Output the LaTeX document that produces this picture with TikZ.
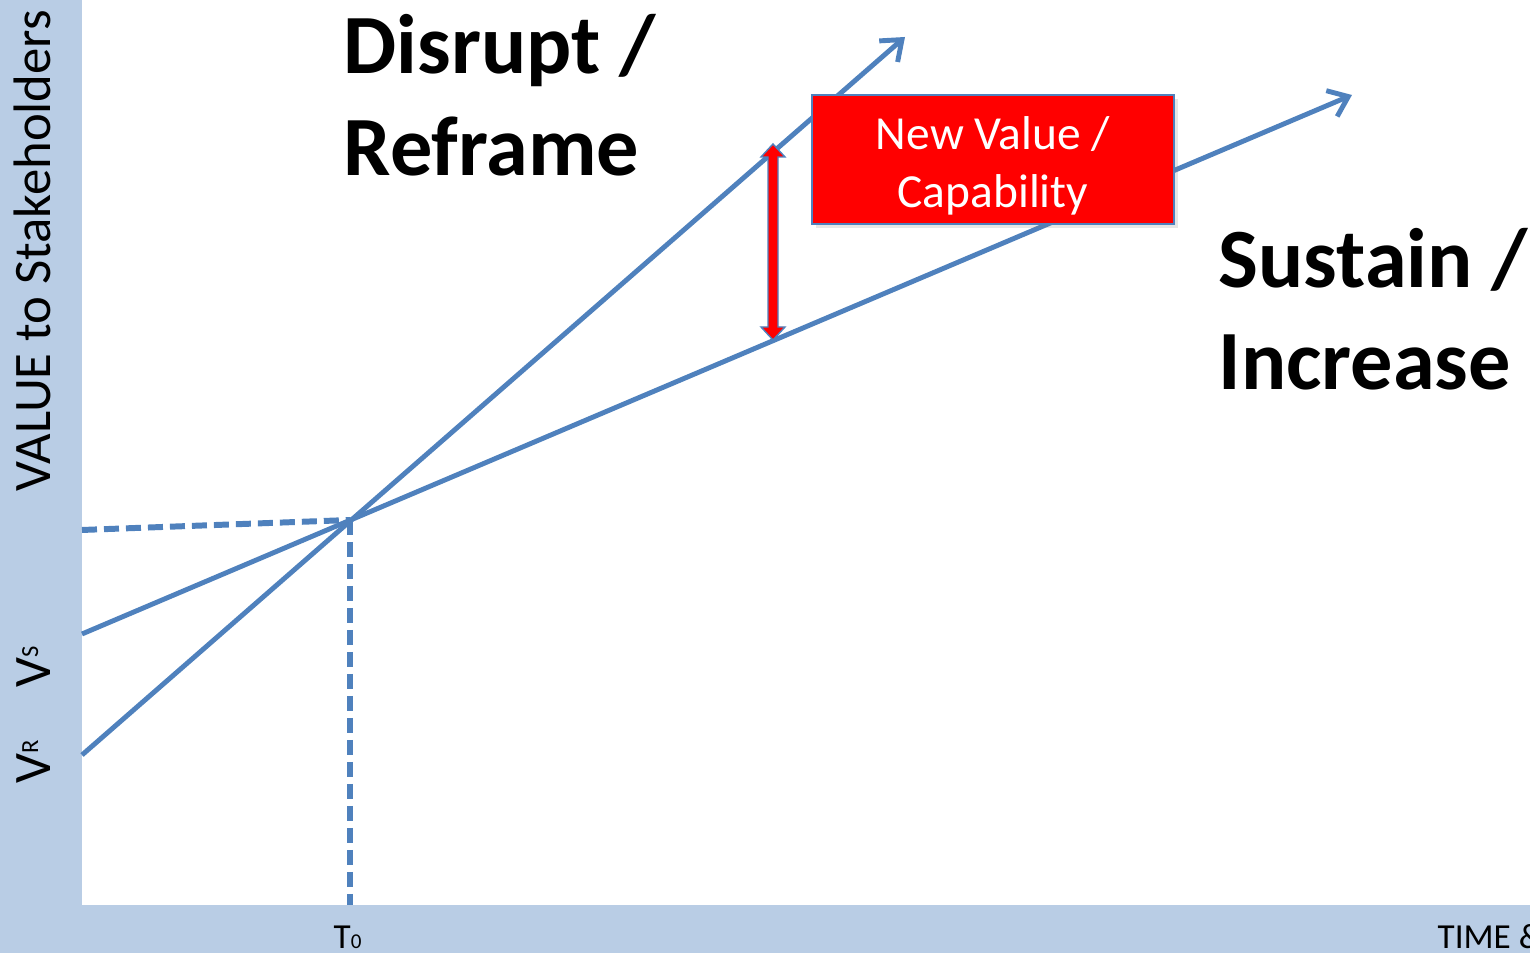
\documentclass[tikz,border=0pt]{standalone}
\usepackage{fontspec}
\setmainfont{Carlito}
\usetikzlibrary{arrows.meta,calc,shadows}
\definecolor{panelblue}{RGB}{185,205,229}
\definecolor{lineblue}{RGB}{79,129,189}
\definecolor{gapred}{RGB}{255,0,0}

\begin{document}
\begin{tikzpicture}[x=0.1mm,y=-0.1mm,trend/.style={draw=lineblue,line width=1.4pt,-{Straight Barb[length=1.8mm,width=2.8mm]}},guide/.style={draw=lineblue,line width=1.7pt,dash pattern=on 1.5mm off 0.7mm},big/.style={font=\fontsize{24}{29}\selectfont\bfseries,align=left,inner sep=0pt,anchor=north west},axislabel/.style={font=\fontsize{15}{18}\selectfont,inner sep=0pt,rotate=90,anchor=base},tick/.style={font=\fontsize{10}{12}\selectfont,inner sep=0pt,anchor=base west}]
% axis panels
\fill[panelblue] (0,0) rectangle (82,953);
\fill[panelblue] (0,905) rectangle (1530,953);
\useasboundingbox (0,0) rectangle (1530,953);
% where the two curves meet, and their ends
\coordinate (T0) at (350,520);
\coordinate (vr) at (82,755);
\coordinate (vs) at (82,634);
\coordinate (reframeEnd) at (905,37);
\coordinate (sustainEnd) at (1352,95);
\coordinate (hl) at (82,530);
\coordinate (vb) at (350,905);
\coordinate (gapTop) at (773,144);
\coordinate (gapBot) at (773,340);
% guides to the axes
\draw[guide] (hl) -- (T0);
\draw[guide] (T0) -- (vb);
% the two curves
\draw[trend] (vr) -- (reframeEnd);
\draw[trend] (vs) -- (sustainEnd);
% gap arrow between them
\filldraw[fill=gapred,draw=lineblue,line width=0.4pt] (gapTop) -- ($(gapTop)+(12,13)$) -- ($(gapTop)+(5,13)$) -- ($(gapBot)+(5,-13)$) -- ($(gapBot)+(12,-13)$) -- (gapBot) -- ($(gapBot)+(-12,-13)$) -- ($(gapBot)+(-5,-13)$) -- ($(gapTop)+(-5,13)$) -- ($(gapTop)+(-12,13)$) -- cycle;
\node[fill=gapred,draw=lineblue,line width=0.4pt,inner ysep=0pt,minimum width=36.2mm,minimum height=12.9mm,align=center,text=white,font=\fontsize{13.5}{16.5}\selectfont,drop shadow={opacity=0.2,shadow xshift=0.4mm,shadow yshift=-0.4mm}] (gain) at (993,159.5) {\rule{0pt}{13pt}New Value /\\Capability};
% labels
\node[big] (disrupt) at (343,14) {Disrupt /\\Reframe};
\node[big] (sustain) at (1218,228) {Sustain /\\Increase};
\node[axislabel] (value) at (50,251) {VALUE to Stakeholders};
\node[axislabel] (vsLabel) at (50,667) {V\raisebox{1.2mm}{\fontsize{7}{8}\selectfont S}};
\node[axislabel] (vrLabel) at (50,762) {V\raisebox{1.2mm}{\fontsize{7}{8}\selectfont R}};
\node[tick] (t0) at (333,949) {T{\fontsize{6}{7}\selectfont 0}};
\node[tick] (time) at (1437,949) {TIME \&};
\end{tikzpicture}
\end{document}
